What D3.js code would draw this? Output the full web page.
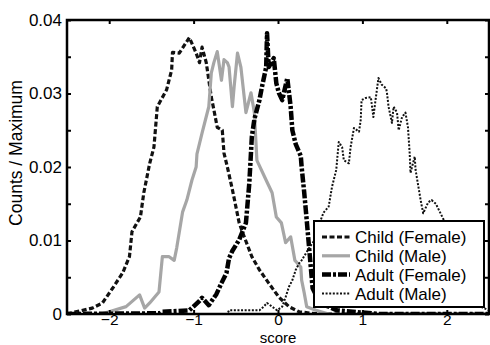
<!DOCTYPE html>
<html><head><meta charset="utf-8">
<script src="https://cdn.jsdelivr.net/npm/d3@7"></script>
<style>body{margin:0;background:#fff}svg{display:block}text{font-family:"Liberation Sans",Arial,sans-serif;fill:#000}</style>
</head><body>
<svg id="c" width="490" height="345"></svg>
<script>
const childFemaleX=[-2.5,-2.47,-2.2,-2.08,-1.96,-1.84,-1.76,-1.73,-1.63,-1.59,-1.52,-1.47,-1.43,-1.32,-1.26,-1.25,-1.17,-1.05,-0.97,-0.93,-0.9,-0.85,-0.79,-0.76,-0.72,-0.66,-0.64,-0.6,-0.54,-0.46,-0.4,-0.31,-0.22,-0.11,0.01,0.13,0.25,0.4,0.6,2.5];
const childFemaleY=[0.0001,0.0001,0.0008,0.0015,0.0035,0.0056,0.0078,0.0112,0.0132,0.0165,0.0205,0.0227,0.0282,0.0305,0.0332,0.0356,0.0355,0.0376,0.0355,0.0342,0.0363,0.0342,0.0295,0.0278,0.0254,0.0250,0.0219,0.0200,0.0169,0.0124,0.0105,0.0078,0.0060,0.0042,0.0023,0.0010,0.0003,0.0001,0,0];
const childMaleX=[-2.1,-2.0,-1.8,-1.64,-1.58,-1.52,-1.41,-1.37,-1.29,-1.23,-1.2,-1.13,-1.08,-1.02,-0.97,-0.96,-0.9,-0.82,-0.79,-0.76,-0.72,-0.67,-0.64,-0.6,-0.58,-0.54,-0.52,-0.48,-0.44,-0.38,-0.32,-0.28,-0.25,-0.14,-0.07,-0.02,0.04,0.09,0.15,0.2,0.27,0.28,0.31,0.34,0.45,0.6];
const childMaleY=[0,0.0003,0.0010,0.0026,0.0008,0.0015,0.0030,0.0078,0.0078,0.0073,0.0090,0.0139,0.0155,0.0182,0.0200,0.0218,0.0246,0.0282,0.0328,0.0342,0.0357,0.0318,0.0346,0.0342,0.0336,0.0282,0.0309,0.0355,0.0336,0.0274,0.0301,0.0274,0.0209,0.0182,0.0165,0.0132,0.0124,0.0097,0.0105,0.0073,0.0064,0.0046,0.0029,0.0010,0.0005,0];
const adultFemaleX=[-2.5,-1.4,-1.37,-1.05,-0.93,-0.9,-0.82,-0.73,-0.67,-0.61,-0.58,-0.54,-0.46,-0.38,-0.34,-0.31,-0.28,-0.22,-0.19,-0.14,-0.13,-0.11,-0.05,-0.02,0.01,0.05,0.11,0.15,0.17,0.21,0.27,0.28,0.31,0.34,0.38,0.41,0.5,0.7,1.0,1.2,2.5];
const adultFemaleY=[0,0.0001,0.0003,0.0005,0.0018,0.0022,0.0012,0.0027,0.0042,0.0056,0.0076,0.0086,0.0101,0.0124,0.0178,0.0241,0.0265,0.0291,0.0309,0.0336,0.0382,0.0336,0.0348,0.0314,0.0301,0.0291,0.0321,0.0282,0.0250,0.0231,0.0215,0.0200,0.0166,0.0128,0.0075,0.0035,0.0015,0.0005,0.0002,0,0];
const adultMaleX=[-2.5,-0.6,-0.58,-0.22,-0.17,-0.13,-0.07,-0.01,0.05,0.09,0.13,0.17,0.21,0.25,0.28,0.37,0.43,0.48,0.54,0.6,0.64,0.69,0.72,0.76,0.78,0.84,0.86,0.9,0.96,0.98,0.99,1.04,1.1,1.13,1.16,1.19,1.23,1.28,1.29,1.31,1.35,1.37,1.41,1.43,1.47,1.51,1.54,1.56,1.57,1.62,1.63,1.69,1.72,1.78,1.82,1.87,1.9,1.96,2.05,2.15,2.3,2.5];
const adultMaleY=[0,0,0.0005,0.0005,0.0010,0.0015,0.0010,0.0005,0.0010,0.0023,0.0037,0.0046,0.0060,0.0069,0.0073,0.0090,0.0100,0.0120,0.0138,0.0146,0.0173,0.0196,0.0234,0.0227,0.0209,0.0205,0.0227,0.0253,0.0248,0.0264,0.0291,0.0294,0.0295,0.0268,0.0295,0.0321,0.0312,0.0307,0.0302,0.0282,0.0260,0.0282,0.0274,0.0250,0.0268,0.0274,0.0254,0.0219,0.0192,0.0214,0.0196,0.0155,0.0137,0.0152,0.0155,0.0150,0.0143,0.0129,0.0080,0.0040,0.0015,0.0005];
const seriesNames=["Child (Female)","Child (Male)","Adult (Female)","Adult (Male)"];
const xTicks=[-2,-1,0,1,2];
const yTicks=[0,0.01,0.02,0.03,0.04];
const yMinorTicks=[0.005,0.015,0.025,0.035];

(function(){
const styles=[
 {stroke:"#111",width:3.2,dash:"5,2.5"},
 {stroke:"#a6a6a6",width:3.2,dash:null},
 {stroke:"#000",width:4.5,dash:"9,2,3,2"},
 {stroke:"#111",width:2,dash:"2,1.6"}
];
const series=[
 d3.zip(childFemaleX,childFemaleY),
 d3.zip(childMaleX,childMaleY),
 d3.zip(adultFemaleX,adultFemaleY),
 d3.zip(adultMaleX,adultMaleY)
];

const L=67,R=489,T=20,B=314;
const svg=d3.select("#c");
const x=d3.scaleLinear().domain([-2.5,2.5]).range([L,R]);
const y=d3.scaleLinear().domain([0,0.04]).range([B,T]);

svg.append("defs").append("clipPath").attr("id","clip").append("rect")
 .attr("x",L).attr("y",T).attr("width",R-L).attr("height",B-T);

const line=d3.line().x(d=>x(d[0])).y(d=>y(d[1]));
const g=svg.append("g").attr("clip-path","url(#clip)");
series.forEach((s,i)=>{
 const st=styles[i];
 g.append("path").attr("d",line(s)).attr("fill","none")
  .attr("stroke",st.stroke).attr("stroke-width",st.width)
  .attr("stroke-dasharray",st.dash).attr("stroke-linejoin","round");
});

const fs=17;
const axB=svg.append("g").attr("transform",`translate(0,${B})`)
 .call(d3.axisBottom(x).tickValues(xTicks).tickSize(-4).tickPadding(1).tickFormat(d3.format("d")));
const axT=svg.append("g").attr("transform",`translate(0,${T})`)
 .call(d3.axisTop(x).tickValues(xTicks).tickSize(-4).tickFormat(""));
const axL=svg.append("g").attr("transform",`translate(${L},0)`)
 .call(d3.axisLeft(y).tickValues(yTicks).tickSize(-4).tickPadding(5).tickFormat(d=>d===0?"0":d3.format(".2f")(d)));
const axLm=svg.append("g").attr("transform",`translate(${L},0)`)
 .call(d3.axisLeft(y).tickValues(yMinorTicks).tickSize(-4).tickFormat(""));
const axR=svg.append("g").attr("transform",`translate(${R},0)`)
 .call(d3.axisRight(y).tickValues(yTicks.concat(yMinorTicks)).tickSize(-4).tickFormat(""));
[axB,axT,axL,axLm,axR].forEach(a=>{
 a.selectAll(".domain").remove();
 a.selectAll("line").attr("stroke","#000").attr("stroke-width",2);
 a.selectAll("text").attr("font-size",fs).attr("font-family",'"Liberation Sans",Arial,sans-serif').attr("fill","#000");
});
axB.selectAll("text").attr("font-size",15.5).attr("dy","0.66em");
svg.append("rect").attr("x",L).attr("y",T).attr("width",R-L).attr("height",B-T)
 .attr("fill","none").attr("stroke","#000").attr("stroke-width",2.5);

svg.append("text").attr("x",(L+R)/2).attr("y",342.5).attr("text-anchor","middle").attr("font-size",15).text("score");
svg.append("text").attr("transform","translate(22,153) rotate(-90)").attr("text-anchor","middle").attr("font-size",17.5).text("Counts / Maximum");

const lg=svg.append("g");
lg.append("rect").attr("x",314).attr("y",221).attr("width",170).attr("height",86)
 .attr("fill","#fff").attr("stroke","#000").attr("stroke-width",2);
seriesNames.forEach((n,i)=>{
 const yy=237+i*18.8;
 const st=styles[i];
 lg.append("line").attr("x1",322).attr("x2",350).attr("y1",yy).attr("y2",yy)
  .attr("stroke",st.stroke).attr("stroke-width",st.width).attr("stroke-dasharray",st.dash);
 lg.append("text").attr("x",355).attr("y",yy).attr("dy","0.36em").attr("font-size",fs).text(n);
});
})();
</script>
</body></html>
